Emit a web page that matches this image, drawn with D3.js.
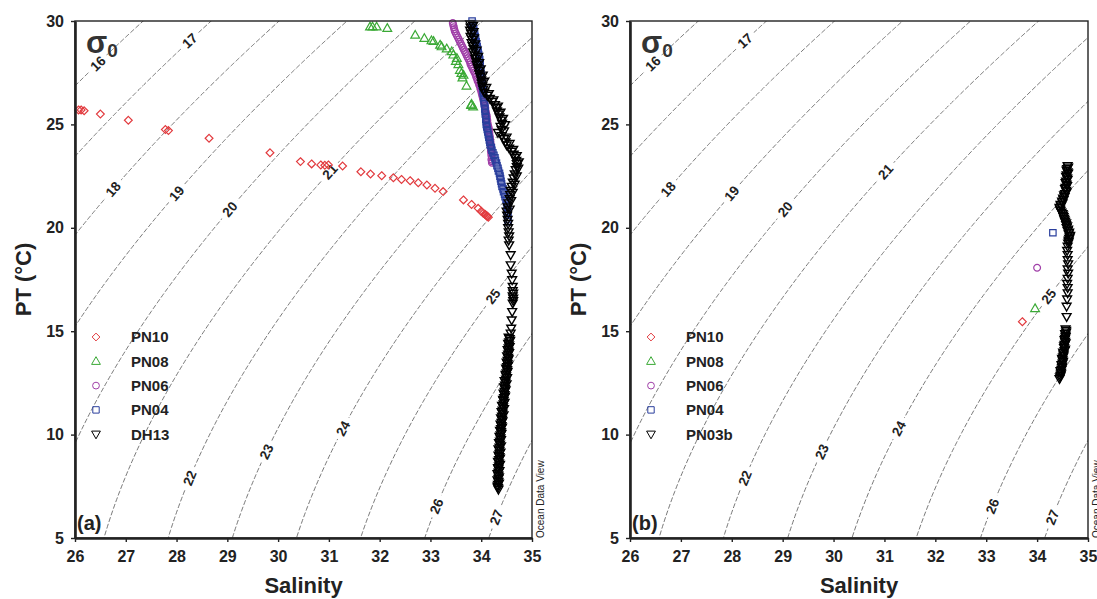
<!DOCTYPE html>
<html>
<head>
<meta charset="utf-8">
<script src="https://cdn.jsdelivr.net/npm/d3@7"></script>
<style>
  body { margin: 0; background: #fff; }
  text { font-family: "Liberation Sans", Arial, sans-serif; }
</style>
</head>
<body>
<svg id="chart" width="1097" height="599"></svg>
<script>
// ---- data: [salinity, potential temperature] ----
var salinityTicks = [26, 27, 28, 29, 30, 31, 32, 33, 34, 35];
var tempTicks = [5, 10, 15, 20, 25, 30];
var sigmaLevels = [16, 17, 18, 19, 20, 21, 22, 23, 24, 25, 26, 27];

var namesA = ["PN10", "PN08", "PN06", "PN04", "DH13"];
var namesB = ["PN10", "PN08", "PN06", "PN04", "PN03b"];

var pn10A = [[26.07,25.70],[26.12,25.70],[26.18,25.66],[26.50,25.50],[27.05,25.20],[27.78,24.75],[27.84,24.70],
  [28.64,24.33],[29.84,23.63],[30.44,23.20],[30.66,23.09],[30.84,23.04],[30.92,23.02],[30.99,23.04],[31.27,22.99],
  [31.63,22.71],[31.82,22.60],[32.04,22.52],[32.27,22.42],[32.43,22.34],[32.60,22.28],[32.76,22.18],[32.93,22.07],
  [33.09,21.91],[33.25,21.75],[33.65,21.35],[33.81,21.13],[33.94,20.94],[34.00,20.80],[34.04,20.70],[34.07,20.66],
  [34.09,20.62],[34.11,20.58],[34.14,20.51],[34.12,20.55]];
var pn08A = [[31.81,29.72],[31.86,29.72],[31.94,29.72],[32.15,29.65],[32.70,29.32],[32.88,29.16],[33.02,29.05],
  [33.06,29.02],[33.19,28.84],[33.22,28.76],[33.32,28.66],[33.42,28.52],[33.45,28.36],[33.52,28.20],[33.50,28.05],
  [33.55,27.90],[33.58,27.62],[33.61,27.47],[33.65,27.39],[33.63,27.25],[33.71,26.86],[33.81,25.98],[33.84,25.85],
  [33.80,25.92]];
var pn06A = [[33.44,29.90],[33.46,29.70],[33.48,29.50],[33.52,29.30],[33.56,29.10],[33.60,28.90],[33.64,28.70],
  [33.68,28.50],[33.72,28.30],[33.76,28.10],[33.79,27.90],[33.83,27.70],[33.87,27.50],[33.90,27.30],[33.93,27.10],
  [33.96,26.90],[33.99,26.70],[34.01,26.50],[34.03,26.30],[34.05,26.10],[34.07,25.90],[34.08,25.70],[34.10,25.50],
  [34.11,25.30],[34.12,25.10],[34.14,24.90],[34.15,24.70],[34.16,24.50],[34.17,24.30],[34.18,24.10],[34.19,23.90],
  [34.19,23.70],[34.20,23.50],[34.20,23.30],[34.21,23.15],
  [33.45,29.80],[33.47,29.60],[33.50,29.40],[33.54,29.20],[33.58,29.00],[33.62,28.80],[33.66,28.60],[33.70,28.40],
  [33.74,28.20],[33.78,28.00],[33.81,27.80],[33.85,27.60],[33.89,27.40],[33.92,27.20],[33.95,27.00],[33.98,26.80],
  [34.00,26.60],[34.02,26.40],[34.04,26.20],[34.06,26.00],[34.08,25.80],[34.09,25.60],[34.11,25.40],[34.12,25.20],
  [34.13,25.00],[34.15,24.80],[34.16,24.60],[34.17,24.40],[34.18,24.20],[34.19,24.00],[34.19,23.80],[34.20,23.60],
  [34.21,23.40],[34.21,23.22]];
var pn04A = [[33.82,30.00],[33.84,29.75],[33.86,29.50],[33.88,29.25],[33.90,29.00],[33.92,28.75],[33.94,28.50],
  [33.96,28.25],[33.97,28.00],[33.98,27.75],[33.99,27.50],[34.00,27.25],[34.01,27.00],[34.03,26.75],[34.04,26.50],
  [34.05,26.25],[34.06,26.00],[34.07,25.75],[34.08,25.50],[34.09,25.25],[34.10,25.00],[34.12,24.75],[34.14,24.50],
  [34.16,24.25],[34.18,24.00],[34.21,23.75],[34.25,23.50],[34.28,23.25],[34.31,23.00],[34.34,22.75],[34.37,22.50],
  [34.39,22.25],[34.41,22.00],[34.44,21.75],[34.47,21.50],[34.50,21.25],[34.52,21.00],[34.52,20.75],[34.52,20.50],
  [34.53,20.30],
  [33.83,29.88],[33.85,29.63],[33.87,29.38],[33.89,29.13],[33.91,28.88],[33.93,28.63],[33.95,28.38],[33.97,28.13],
  [33.98,27.88],[33.99,27.63],[34.00,27.38],[34.01,27.13],[34.02,26.88],[34.04,26.63],[34.05,26.38],[34.06,26.13],
  [34.07,25.88],[34.08,25.63],[34.09,25.38],[34.10,25.13],[34.11,24.88],[34.13,24.63],[34.15,24.38],[34.17,24.13],
  [34.20,23.88],[34.23,23.63],[34.27,23.38],[34.30,23.13],[34.33,22.88],[34.36,22.63],[34.38,22.38],[34.40,22.13],
  [34.43,21.88],[34.46,21.63],[34.49,21.38],[34.51,21.13],[34.52,20.88],[34.52,20.63],[34.53,20.40]];
var dh13A = [[33.78,29.85],[33.79,29.70],[33.78,29.55],[33.80,29.40],[33.79,29.25],[33.82,29.10],[33.81,28.95],
  [33.83,28.80],[33.85,28.65],[33.84,28.50],[33.87,28.35],[33.88,28.20],[33.90,28.05],[33.91,27.90],[33.93,27.75],
  [33.95,27.60],[33.96,27.45],[33.98,27.30],[34.00,27.15],[34.01,27.00],[34.02,26.85],[34.04,26.70],[34.06,26.55],
  [34.12,26.40],[34.17,26.25],[34.22,26.10],[34.27,25.95],[34.29,25.80],[34.31,25.65],[34.34,25.50],[34.36,25.35],
  [34.39,25.20],[34.41,25.05],[34.38,24.90],[34.40,24.75],[34.33,24.60],[34.40,24.45],[34.45,24.30],[34.48,24.15],
  [34.50,24.00],[34.55,23.85],[34.60,23.70],[34.64,23.55],[34.66,23.40],[34.69,23.25],[34.70,23.10],[34.70,22.95],
  [34.68,22.80],[34.66,22.60],[34.64,22.40],[34.62,22.20],[34.60,22.00],[34.58,21.80],[34.57,21.60],[34.56,21.40],
  [34.54,21.20],[34.52,21.00],[34.50,20.80],[34.51,20.60],[34.52,20.40],[34.53,20.20],[34.53,20.00],[34.54,19.80],
  [34.55,19.60],[34.54,19.40],[34.55,19.17],[34.58,18.69],[34.58,18.20],[34.60,17.80],[34.61,17.48],[34.62,17.16],
  [34.62,16.95],[34.63,16.83],[34.62,16.70],[34.63,16.59],[34.63,16.47],[34.62,16.35],[34.61,15.94],[34.60,15.54],
  [34.59,15.14],[34.58,14.90],
  [33.84,29.78],[33.85,29.48],[33.86,29.18],[33.88,28.88],[33.91,28.58],[33.94,28.28],[33.96,27.98],[33.99,27.68],
  [34.03,27.38],[34.06,27.08],[34.10,26.78],[34.15,26.48],[34.24,26.18],[34.33,25.88],[34.38,25.58],[34.43,25.28],
  [34.47,24.98],[34.45,24.68],[34.50,24.38],[34.56,24.08],[34.63,23.78],[34.70,23.48],[34.74,23.18],[34.73,22.88],
  [34.70,22.50],[34.66,22.10],[34.62,21.70],[34.59,21.30],[34.56,20.90],
  [34.54,14.70],[34.57,14.55],[34.53,14.40],[34.56,14.25],[34.52,14.10],[34.55,13.95],[34.51,13.80],[34.54,13.65],
  [34.50,13.50],[34.53,13.35],[34.49,13.20],[34.52,13.05],[34.48,12.90],[34.51,12.75],[34.46,12.60],[34.50,12.45],
  [34.45,12.30],[34.48,12.15],[34.44,12.00],[34.47,11.85],[34.43,11.70],[34.46,11.55],[34.41,11.40],[34.45,11.25],
  [34.40,11.10],[34.44,10.95],[34.39,10.80],[34.42,10.65],[34.38,10.50],[34.41,10.35],[34.37,10.20],[34.40,10.05],
  [34.36,9.90],[34.39,9.75],[34.35,9.60],[34.39,9.45],[34.34,9.30],[34.38,9.15],[34.34,9.00],[34.37,8.85],
  [34.33,8.70],[34.37,8.55],[34.33,8.40],[34.36,8.25],[34.32,8.10],[34.35,7.95],[34.32,7.80],[34.35,7.65],
  [34.32,7.50],[34.34,7.35],
  [34.56,14.63],[34.55,14.48],[34.55,14.33],[34.54,14.18],[34.54,14.03],[34.53,13.88],[34.53,13.73],[34.52,13.58],
  [34.52,13.43],[34.51,13.28],[34.51,13.13],[34.50,12.98],[34.49,12.83],[34.49,12.68],[34.48,12.53],[34.47,12.38],
  [34.47,12.23],[34.46,12.08],[34.46,11.93],[34.45,11.78],[34.44,11.63],[34.44,11.48],[34.43,11.33],[34.42,11.18],
  [34.42,11.03],[34.41,10.88],[34.41,10.73],[34.40,10.58],[34.40,10.43],[34.39,10.28],[34.39,10.13],[34.38,9.98],
  [34.38,9.83],[34.37,9.68],[34.37,9.53],[34.36,9.38],[34.36,9.23],[34.36,9.08],[34.36,8.93],[34.35,8.78],
  [34.35,8.63],[34.35,8.48],[34.34,8.33],[34.34,8.18],[34.34,8.03],[34.34,7.88],[34.34,7.73],[34.33,7.58],
  [34.33,7.43]];

var pn10B = [[33.71,15.46]];
var pn08B = [[33.96,16.10]];
var pn06B = [[34.00,18.07]];
var pn04B = [[34.31,19.76]];
var pn03bB = [[34.60,23.00],[34.59,22.85],[34.60,22.70],[34.58,22.55],[34.59,22.40],[34.57,22.25],[34.58,22.10],
  [34.56,21.95],[34.57,21.80],[34.55,21.65],[34.54,21.50],[34.52,21.35],[34.50,21.20],[34.47,21.05],[34.45,20.90],
  [34.48,20.75],[34.51,20.60],[34.53,20.45],[34.55,20.30],[34.57,20.15],[34.58,20.00],[34.60,19.85],[34.62,19.70],
  [34.64,19.55],[34.62,19.40],[34.61,19.25],[34.60,19.10],[34.59,18.90],[34.60,18.70],[34.60,18.45],[34.61,18.25],
  [34.60,18.00],[34.61,17.80],[34.60,17.55],[34.59,17.30],[34.60,17.10],[34.60,16.85],[34.59,16.55],[34.58,16.20],
  [34.58,15.70],[34.56,15.10],[34.57,14.95],[34.56,14.80],[34.55,14.65],[34.55,14.50],[34.54,14.35],[34.53,14.20],
  [34.54,14.05],[34.52,13.90],[34.51,13.75],[34.50,13.60],[34.50,13.45],[34.49,13.30],[34.48,13.15],[34.47,13.00],
  [34.46,12.85],[34.44,12.70],
  [34.61,22.93],[34.58,22.78],[34.61,22.63],[34.57,22.48],[34.60,22.33],[34.56,22.18],[34.59,22.03],[34.55,21.88],
  [34.58,21.73],[34.53,21.58],[34.51,21.43],[34.49,21.28],[34.46,21.13],[34.44,20.98],[34.46,20.83],[34.50,20.68],
  [34.52,20.53],[34.54,20.38],[34.57,20.23],[34.59,20.08],[34.61,19.93],[34.63,19.78],[34.65,19.63],[34.63,19.48],
  [34.62,19.33],
  [34.57,15.03],[34.55,14.88],[34.56,14.73],[34.54,14.58],[34.56,14.43],[34.53,14.28],[34.55,14.13],[34.51,13.98],
  [34.52,13.83],[34.49,13.68],[34.51,13.53],[34.48,13.38],[34.49,13.23],[34.46,13.08],[34.47,12.93],[34.45,12.78]];

var seriesA = [pn10A, pn08A, pn06A, pn04A, dh13A];
var seriesB = [pn10B, pn08B, pn06B, pn04B, pn03bB];

// ---- styling ----
var colors = ["#e23a3e", "#3aa935", "#a03fa8", "#2a3f9d", "#000"];
var strokes = [1.2, 1.2, 1.2, 1.2, 1.4];
var symbols = [
  "M0,-3.9L3.9,0L0,3.9L-3.9,0Z",                  // diamond
  "M0,-4.6L4.4,3.1L-4.4,3.1Z",                    // triangle up
  "M3.4,0A3.4,3.4 0 1,1 -3.4,0A3.4,3.4 0 1,1 3.4,0Z", // circle
  "M-3.2,-3.2H3.2V3.2H-3.2Z",                     // square
  "M0,4.6L4.4,-3.1L-4.4,-3.1Z"                    // triangle down
];

var svg = d3.select("#chart");
var plotTop = 21, plotBottom = 538;

// UNESCO 1980 density at p = 0, minus 1000
function sigma0(S, T) {
  var rw = 999.842594 + 6.793952e-2 * T - 9.095290e-3 * T * T + 1.001685e-4 * T * T * T
    - 1.120083e-6 * T * T * T * T + 6.536332e-9 * T * T * T * T * T;
  var A = 8.24493e-1 - 4.0899e-3 * T + 7.6438e-5 * T * T - 8.2467e-7 * T * T * T + 5.3875e-9 * T * T * T * T;
  var B = -5.72466e-3 + 1.0227e-4 * T - 1.6546e-6 * T * T;
  var C = 4.8314e-4;
  return rw + A * S + B * Math.pow(S, 1.5) + C * S * S - 1000;
}

function tempOnIsopycnal(level, S) {
  var lo = 3, hi = 40;
  if (sigma0(S, lo) < level || sigma0(S, hi) > level) return null;
  for (var i = 0; i < 50; i++) {
    var mid = (lo + hi) / 2;
    if (sigma0(S, mid) > level) lo = mid; else hi = mid;
  }
  return (lo + hi) / 2;
}

// where each contour label sits (salinity along the line)
var labelAt = [[16, 26.45], [17, 28.26], [18, 26.75], [19, 28.0], [20, 29.05], [21, 31.02],
  [22, 28.26], [23, 29.77], [24, 31.28], [25, 34.23], [26, 33.12], [27, 34.3]];

function drawPanel(x0, x1, series, names, tag, id) {
  var x = d3.scaleLinear().domain([26, 35]).range([x0, x1]);
  var y = d3.scaleLinear().domain([5, 30]).range([plotBottom, plotTop]);

  svg.append("clipPath").attr("id", "clip" + id)
    .append("rect").attr("x", x0).attr("y", plotTop).attr("width", x1 - x0).attr("height", plotBottom - plotTop);

  var g = svg.append("g");
  var cont = g.append("g").attr("clip-path", "url(#clip" + id + ")");

  var sGrid = d3.range(25.9, 35.12, 0.02);
  var line = d3.line()
    .defined(function(d) { return d[1] != null; })
    .x(function(d) { return x(d[0]); })
    .y(function(d) { return y(d[1]); });

  sigmaLevels.forEach(function(level) {
    var pts = sGrid.map(function(s) { return [s, tempOnIsopycnal(level, s)]; });
    cont.append("path")
      .attr("d", line(pts))
      .attr("fill", "none")
      .attr("stroke", "#555")
      .attr("stroke-width", 0.8)
      .attr("stroke-dasharray", "5,2");
  });

  labelAt.forEach(function(d) {
    var level = d[0], s = d[1];
    var t = tempOnIsopycnal(level, s);
    var ta = tempOnIsopycnal(level, s - 0.05), tb = tempOnIsopycnal(level, s + 0.05);
    var ang = Math.atan2(y(tb) - y(ta), x(s + 0.05) - x(s - 0.05)) * 180 / Math.PI;
    var lg = cont.append("g")
      .attr("transform", "translate(" + x(s) + "," + y(t) + ") rotate(" + ang + ")");
    lg.append("rect").attr("x", -12).attr("y", -7).attr("width", 24).attr("height", 14).attr("fill", "#fff");
    lg.append("text")
      .attr("text-anchor", "middle")
      .attr("dy", "0.35em")
      .attr("font-size", 13.5)
      .attr("font-weight", "bold")
      .attr("fill", "#222")
      .text(level);
  });

  // sigma label
  var sg = g.append("text").attr("x", x0 + 11).attr("y", 53).attr("fill", "#333").attr("font-weight", "bold");
  sg.append("tspan").attr("font-size", 31).text("σ");
  sg.append("tspan").attr("font-size", 19).attr("dy", 4).text("0");

  // data points
  series.forEach(function(pts, i) {
    g.append("g").selectAll("path")
      .data(pts)
      .enter().append("path")
      .attr("transform", function(d) { return "translate(" + x(d[0]) + "," + y(d[1]) + ")"; })
      .attr("d", symbols[i])
      .attr("fill", "none")
      .attr("stroke", colors[i])
      .attr("stroke-width", strokes[i]);
  });

  // frame
  g.append("rect")
    .attr("x", x0).attr("y", plotTop).attr("width", x1 - x0).attr("height", plotBottom - plotTop)
    .attr("fill", "none").attr("stroke", "#222").attr("stroke-width", 1.4);

  var ax = g.append("g")
    .attr("transform", "translate(0," + plotBottom + ")")
    .call(d3.axisBottom(x).tickValues(salinityTicks).tickFormat(d3.format("d")).tickSize(4).tickSizeOuter(0).tickPadding(9));
  var ay = g.append("g")
    .attr("transform", "translate(" + x0 + ",0)")
    .call(d3.axisLeft(y).tickValues(tempTicks).tickFormat(d3.format("d")).tickSize(4).tickSizeOuter(0).tickPadding(7));
  [ax, ay].forEach(function(a) {
    a.select(".domain").attr("stroke", "#222").attr("stroke-width", 2.6);
    a.selectAll(".tick line").attr("stroke", "#222").attr("stroke-width", 1.4);
    a.selectAll(".tick text")
      .attr("font-size", 16).attr("font-weight", "bold").attr("fill", "#222")
      .attr("font-family", "'Liberation Sans', Arial, sans-serif");
  });

  // axis titles
  g.append("text")
    .attr("x", (x0 + x1) / 2).attr("y", 593)
    .attr("text-anchor", "middle")
    .attr("font-size", 22).attr("font-weight", "bold").attr("fill", "#222")
    .text("Salinity");
  g.append("text")
    .attr("transform", "translate(" + (x0 - 44) + "," + ((plotTop + plotBottom) / 2) + ") rotate(-90)")
    .attr("text-anchor", "middle")
    .attr("font-size", 22).attr("font-weight", "bold").attr("fill", "#222")
    .text("PT (°C)");

  // legend
  var leg = g.append("g").attr("transform", "translate(" + (x0 + 21) + ",337)");
  names.forEach(function(n, i) {
    var row = leg.append("g").attr("transform", "translate(0," + (i * 24.3) + ")");
    row.append("path").attr("d", symbols[i]).attr("fill", "none").attr("stroke", colors[i]).attr("stroke-width", 1);
    row.append("text").attr("x", 35).attr("dy", "0.36em")
      .attr("font-size", 15).attr("font-weight", "bold").attr("fill", "#222").text(n);
  });

  // panel tag
  g.append("text").attr("x", x0 + 2).attr("y", 530)
    .attr("font-size", 20).attr("font-weight", "bold").attr("fill", "#222").text(tag);

  g.append("text")
    .attr("transform", "translate(" + (x1 + 12) + "," + plotBottom + ") rotate(-90)")
    .attr("font-size", 10).attr("fill", "#222")
    .text("Ocean Data View");
}

drawPanel(75, 532, seriesA, namesA, "(a)", "a");
drawPanel(630, 1088, seriesB, namesB, "(b)", "b");
</script>
</body>
</html>
